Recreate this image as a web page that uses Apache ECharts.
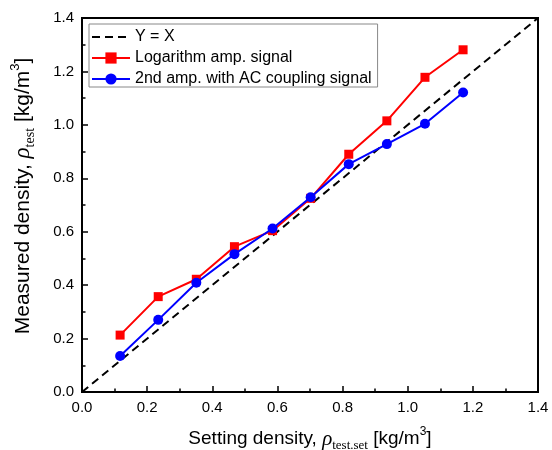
<!DOCTYPE html>
<html>
<head>
<meta charset="utf-8">
<script src="https://cdn.jsdelivr.net/npm/echarts@6/dist/echarts.min.js"></script>
<style>html,body{margin:0;padding:0;background:#fff}#c{width:552px;height:450px}</style>
</head>
<body>
<div id="c"></div>
<script>
const settingDensity = [0.117, 0.234, 0.351, 0.468, 0.585, 0.702, 0.819, 0.936, 1.053, 1.170];
const logAmpSignal   = [0.213, 0.357, 0.422, 0.544, 0.604, 0.725, 0.890, 1.015, 1.178, 1.281];
const acCoupleSignal = [0.135, 0.270, 0.409, 0.516, 0.612, 0.729, 0.853, 0.928, 1.004, 1.121];
const identityLine   = [0, 1.4];
const seriesNames = ['Y = X', 'Logarithm amp. signal', '2nd amp. with AC coupling signal'];

const pair = (xs, ys) => xs.map((x, i) => [x, ys[i]]);
const sans = 'Arial, "Liberation Sans", sans-serif';
const serif = '"Times New Roman", "Liberation Serif", serif';
function makeRich(fs) {
  return {
    t: { fontFamily: sans, fontSize: fs, color: '#000' },
    rho: { fontFamily: serif, fontStyle: 'italic', fontSize: fs + 2, color: '#000' },
    sub: { fontFamily: serif, fontSize: Math.round(fs * 0.68), color: '#000', verticalAlign: 'bottom' },
    sup: { fontFamily: sans, fontSize: Math.round(fs * 0.62), color: '#000', verticalAlign: 'top' }
  };
}

const chart = echarts.init(document.getElementById('c'), null, { renderer: 'canvas' });
const axisCommon = {
  type: 'value', min: 0, max: 1.4, interval: 0.2,
  axisLine: { show: true, onZero: false, lineStyle: { color: '#000', width: 2 } },
  axisTick: { show: true, inside: true, length: 6, lineStyle: { color: '#000', width: 1.5 } },
  minorTick: { show: true, splitNumber: 2, length: 3.5, lineStyle: { color: '#000', width: 1.5 } },
  splitLine: { show: false },
  axisLabel: { color: '#000', fontFamily: sans, fontSize: 15, margin: 8, formatter: v => v.toFixed(1) },
  nameLocation: 'middle'
};
chart.setOption({
  animation: false,
  backgroundColor: '#fff',
  grid: {
    left: 82, right: 14, top: 18, bottom: 58,
    outerBoundsMode: 'none', containLabel: false,
    show: true, borderColor: '#000', borderWidth: 2, backgroundColor: 'transparent'
  },
  legend: {
    data: [
      { name: seriesNames[0], itemStyle: { color: 'transparent', borderWidth: 0 } },
      { name: seriesNames[1] },
      { name: seriesNames[2] }
    ],
    orient: 'vertical', left: 89, top: 24,
    itemWidth: 38, itemHeight: 14, itemGap: 5,
    padding: [5, 6, 0, 2],
    borderColor: '#888', borderWidth: 1, backgroundColor: '#fff',
    textStyle: { fontFamily: sans, fontSize: 16, color: '#000' }
  },
  xAxis: Object.assign({}, axisCommon, {
    name: '{t|Setting density, }{rho|ρ}{sub|test.set}{t| [kg/m}{sup|3}{t|]}',
    nameGap: 34,
    nameTextStyle: { rich: makeRich(19), lineHeight: 26 }
  }),
  yAxis: Object.assign({}, axisCommon, {
    name: '{t|Measured density, }{rho|ρ}{sub|test}{t| [kg/m}{sup|3}{t|]}',
    nameGap: 45,
    nameTextStyle: { rich: makeRich(21), lineHeight: 28, padding: [0, 0, 0, 18] }
  }),
  series: [
    {
      name: seriesNames[0], type: 'line', data: pair(identityLine, identityLine),
      symbol: 'none', lineStyle: { color: '#000', width: 2, type: [8, 5] }, itemStyle: { color: '#000' }, z: 1
    },
    {
      name: seriesNames[1], type: 'line', data: pair(settingDensity, logAmpSignal),
      symbol: 'rect', symbolSize: 9,
      lineStyle: { color: '#f00', width: 2 }, itemStyle: { color: '#f00' }, z: 2
    },
    {
      name: seriesNames[2], type: 'line', data: pair(settingDensity, acCoupleSignal),
      symbol: 'circle', symbolSize: 10,
      lineStyle: { color: '#00f', width: 2 }, itemStyle: { color: '#00f' }, z: 3
    }
  ]
});
</script>
</body>
</html>
